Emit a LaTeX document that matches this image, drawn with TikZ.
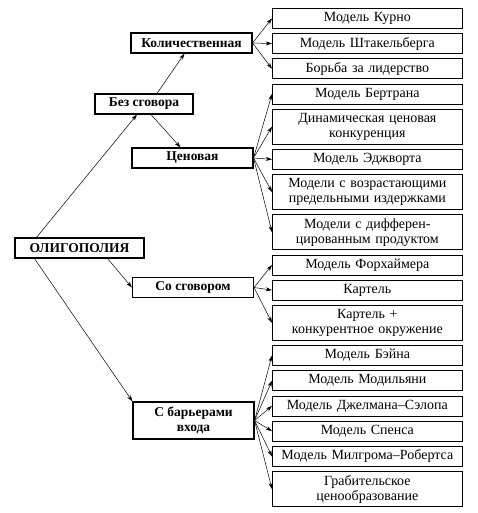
\documentclass[tikz,border=0pt]{standalone}
\usepackage{fontspec}
\setmainfont{Liberation Serif}
\usetikzlibrary{arrows.meta, positioning}

\begin{document}
\begin{tikzpicture}[
    x=1pt, y=-1pt,
    node distance=4.5pt,
    model/.style={rectangle, draw, line width=0.7pt, text width=182pt, inner xsep=4pt, inner ysep=2pt,
                  minimum height=20pt, align=center, font=\fontsize{14}{15}\selectfont},
    model2/.style={model, minimum height=35pt},
    group/.style={rectangle, draw, line width=1.1pt, align=center, inner sep=2pt,
                  minimum width=121pt, minimum height=20pt, font=\fontsize{13.5}{15}\selectfont\bfseries},
    arrow/.style={-{Stealth[length=2.2mm, width=1.4mm]}, line width=0.5pt}
]
\useasboundingbox (0,0) rectangle (477,513);

% right column
\node[model, anchor=north west] (kurno) at (272,8) {Модель Курно};
\node[model, below=of kurno] (shtak) {Модель Штакельберга};
\node[model, below=of shtak] (lider) {Борьба за лидерство};
\node[model, below=of lider] (bertran) {Модель Бертрана};
\node[model2, below=of bertran] (dinam) {Динамическая ценовая\\конкуренция};
\node[model, below=of dinam] (edzh) {Модель Эджворта};
\node[model2, below=of edzh] (izderzh) {Модели с возрастающими\\предельными издержками};
\node[model2, below=of izderzh] (diff) {Модели с дифферен-\\цированным продуктом};
\node[model, below=of diff] (forh) {Модель Форхаймера};
\node[model, below=of forh] (kartel) {Картель};
\node[model2, below=of kartel] (kartelk) {Картель +\\конкурентное окружение};
\node[model, below=of kartelk] (bein) {Модель Бэйна};
\node[model, below=of bein] (modil) {Модель Модильяни};
\node[model, below=of modil] (gelman) {Модель Джелмана--Сэлопа};
\node[model, below=of gelman] (spens) {Модель Спенса};
\node[model, below=of spens] (milgrom) {Модель Милгрома--Робертса};
\node[model2, below=of milgrom] (grab) {Грабительское\\ценообразование};

% groups
\node[group, minimum width=129pt] (olig) at (79.5,248) {ОЛИГОПОЛИЯ};
\node[group, minimum width=98pt] (bez) at (144,104) {Без сговора};
\node[group] (kol) at (191.5,43) {Количественная};
\node[group] (cen) at (192.5,158) {Ценовая};
\node[group] (sos) at (193,287.5) {Со сговором};
\node[group, minimum height=37pt] (bar) at (193.5,420.5) {С барьерами\\входа};

\draw[arrow] ([xshift=22pt]olig.north west) -- ([xshift=-7pt]bez.south);
\draw[arrow] ([xshift=-37pt]olig.south east) -- (sos.west);
\draw[arrow] ([xshift=20pt]olig.south west) -- (bar.north west);
\draw[arrow] ([xshift=13pt]bez.north) -- ([xshift=-7pt]kol.south);
\draw[arrow] ([xshift=7pt]bez.south) -- ([xshift=-12pt]cen.north);

\foreach \m in {kurno, shtak, lider}
    \draw[arrow] (kol.east) -- (\m.west);
\foreach \m in {bertran, dinam, edzh, izderzh, diff}
    \draw[arrow] (cen.east) -- (\m.west);
\foreach \m in {forh, kartel, kartelk}
    \draw[arrow] (sos.east) -- (\m.west);
\foreach \m in {bein, modil, gelman, spens, milgrom, grab}
    \draw[arrow] (bar.east) -- (\m.west);
\end{tikzpicture}
\end{document}
